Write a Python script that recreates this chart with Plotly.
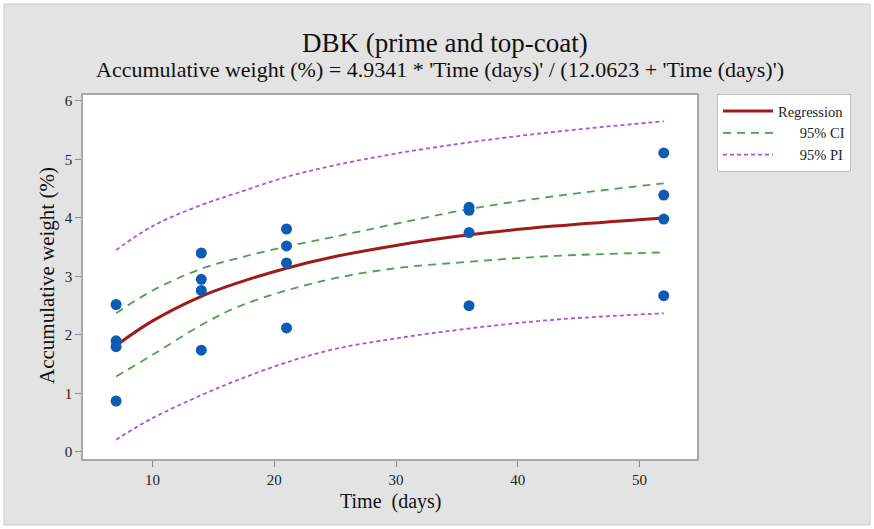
import plotly.graph_objects as go

# ---- data ----
time_days = [7, 7, 7, 7, 14, 14, 14, 14, 21, 21, 21, 21, 36, 36, 36, 36, 52, 52, 52, 52]
acc_weight = [2.52, 1.90, 1.80, 0.87,
              3.40, 2.95, 2.76, 1.74,
              3.81, 3.52, 3.23, 2.12,
              4.18, 4.13, 3.75, 2.50,
              5.11, 4.39, 3.98, 2.67]

curve_x = [7, 10, 14, 17, 21, 25, 30, 36, 43, 52]
regression = [1.82, 2.24, 2.66, 2.89, 3.14, 3.34, 3.53, 3.71, 3.86, 4.00]
ci_upper = [2.37, 2.76, 3.13, 3.31, 3.51, 3.68, 3.90, 4.15, 4.37, 4.59]
ci_lower = [1.29, 1.66, 2.17, 2.48, 2.76, 2.97, 3.14, 3.25, 3.35, 3.41]
pi_upper = [3.45, 3.86, 4.22, 4.43, 4.70, 4.90, 5.10, 5.29, 5.47, 5.65]
pi_lower = [0.21, 0.58, 0.97, 1.23, 1.53, 1.76, 1.94, 2.11, 2.26, 2.37]

x_ticks = [10, 20, 30, 40, 50]
y_ticks = [0, 1, 2, 3, 4, 5, 6]

title_text = "DBK (prime and top-coat)"
subtitle_text = "Accumulative weight (%) = 4.9341 * 'Time (days)' / (12.0623 + 'Time (days)')"

FONT = "Liberation Serif, Times New Roman, serif"
W, H = 874, 529
L, R, T, B = 83, 177, 95, 70
pw, ph = W - L - R, H - T - B

def px_x(p):
    return (p - L) / pw

def px_y(p):
    return (H - B - p) / ph

NB = "\u00a0"
fig = go.Figure()

fig.add_trace(go.Scatter(x=curve_x, y=regression, mode="lines", name="Regression",
                         line=dict(color="#9e1b1b", width=3, shape="spline")))
fig.add_trace(go.Scatter(x=curve_x, y=ci_upper, mode="lines", name=NB * 6 + "95% CI",
                         line=dict(color="#4aa34a", width=1.8, dash="8px,6px", shape="spline"),
                         legendgroup="ci"))
fig.add_trace(go.Scatter(x=curve_x, y=ci_lower, mode="lines", name="95% CI", showlegend=False,
                         line=dict(color="#4aa34a", width=1.8, dash="8px,6px", shape="spline"),
                         legendgroup="ci"))
fig.add_trace(go.Scatter(x=curve_x, y=pi_upper, mode="lines", name=NB * 6 + "95% PI",
                         line=dict(color="#ac55d2", width=1.8, dash="4px,3px", shape="spline"),
                         legendgroup="pi"))
fig.add_trace(go.Scatter(x=curve_x, y=pi_lower, mode="lines", name="95% PI", showlegend=False,
                         line=dict(color="#ac55d2", width=1.8, dash="4px,3px", shape="spline"),
                         legendgroup="pi"))
fig.add_trace(go.Scatter(x=time_days, y=acc_weight, mode="markers", name="Data", showlegend=False,
                         marker=dict(color="#0d5bb5", size=11)))

axis_common = dict(showgrid=False, zeroline=False, showline=True, linecolor="#a8a8a8",
                   linewidth=1.5, mirror=True, ticks="outside", ticklen=6, tickwidth=1,
                   tickcolor="#888888", tickfont=dict(family=FONT, size=15, color="#222222"))

fig.update_layout(
    width=W, height=H,
    margin=dict(l=L, r=R, t=T, b=B, pad=0),
    paper_bgcolor="#e3e3e3",
    plot_bgcolor="#ffffff",
    font=dict(family=FONT, color="#111111"),
    xaxis=dict(range=[4.28, 54.73], tickvals=x_ticks, **axis_common),
    yaxis=dict(range=[-0.12, 6.10], tickvals=y_ticks, **axis_common),
    legend=dict(x=px_x(717), y=px_y(94), xanchor="left", yanchor="top",
                bgcolor="#ffffff", bordercolor="#c0c0c0", borderwidth=1,
                font=dict(family=FONT, size=14.5, color="#222222"),
                itemwidth=50, tracegroupgap=0, traceorder="normal"),
    showlegend=True,
)

fig.add_annotation(text=title_text, xref="paper", yref="paper", x=px_x(445), y=px_y(43),
                   xanchor="center", yanchor="middle", showarrow=False,
                   font=dict(family=FONT, size=27, color="#111111"))
fig.add_annotation(text=subtitle_text, xref="paper", yref="paper", x=px_x(440), y=px_y(69),
                   xanchor="center", yanchor="middle", showarrow=False,
                   font=dict(family=FONT, size=22, color="#111111"))
fig.add_annotation(text="Time  (days)", xref="paper", yref="paper", x=px_x(390), y=px_y(501),
                   xanchor="center", yanchor="middle", showarrow=False,
                   font=dict(family=FONT, size=20, color="#111111"))
fig.add_annotation(text="Accumulative weight (%)", xref="paper", yref="paper", x=px_x(47), y=px_y(276),
                   xanchor="center", yanchor="middle", showarrow=False, textangle=-90,
                   font=dict(family=FONT, size=21, color="#111111"))

# outer frame: white edge and thin grey border
fig.add_shape(type="rect", xref="paper", yref="paper",
              x0=px_x(0), x1=px_x(W), y0=px_y(H), y1=px_y(0),
              line=dict(color="#ffffff", width=8), fillcolor="rgba(0,0,0,0)", layer="above")
fig.add_shape(type="rect", xref="paper", yref="paper",
              x0=px_x(4), x1=px_x(W - 4), y0=px_y(H - 4), y1=px_y(4),
              line=dict(color="#cccccc", width=1), fillcolor="rgba(0,0,0,0)", layer="above")

fig.write_html("out.html")
